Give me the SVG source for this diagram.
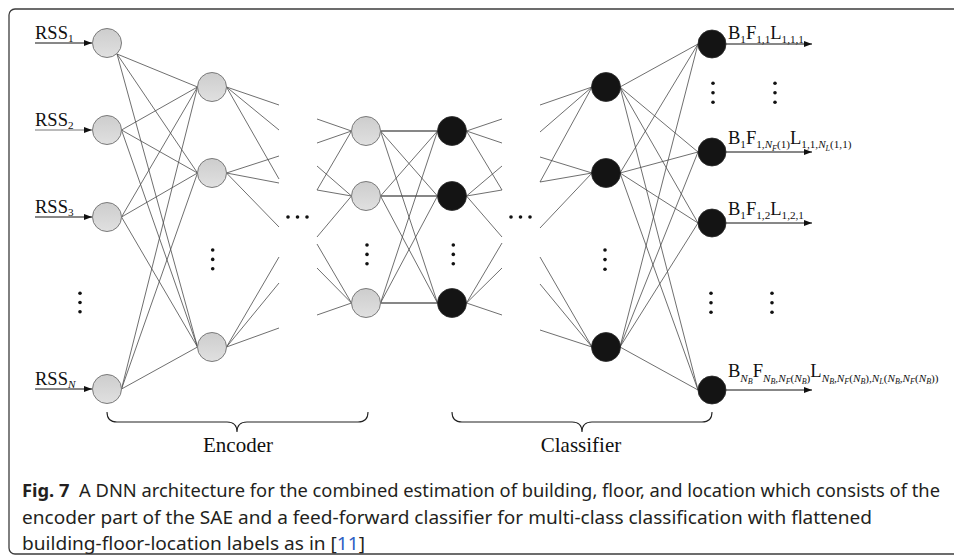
<svg xmlns="http://www.w3.org/2000/svg" width="954" height="555" viewBox="0 0 954 555">
  <style>
    .frame { fill: none; stroke: #3c3c3c; stroke-width: 1.3; }
    .w { stroke: #4a4a4a; stroke-width: 0.8; fill: none; }
    .wd { stroke: #111; stroke-width: 1.2; fill: none; }
    .arr { stroke: #111; stroke-width: 1; fill: none; marker-end: url(#tip); }
    .gray { fill: url(#gfill); stroke: #7a7a7a; stroke-width: 1; }
    .black { fill: #141414; stroke: #2a2a2a; stroke-width: 0.8; }
    .dot { fill: #111; }
    .t { font-family: "Liberation Serif", "Times New Roman", serif; fill: #111; }
    .m { font-size: 18.5px; }
    .s { font-size: 11.2px; }
    .ss { font-size: 8px; }
    .i { font-style: italic; }
    .big { font-size: 21px; }
    .brace { fill: none; stroke: #222; stroke-width: 1.1; }
    .cap { font-family: "Noto Sans", "Open Sans", sans-serif; font-size: 18.5px; fill: #231f20; }
    .capb { font-weight: bold; }
    .link { fill: #2f5fc4; }
  </style>
  <defs>
    <linearGradient id="gfill" x1="0" y1="0" x2="0" y2="1">
      <stop offset="0" stop-color="#cdcdcd"/>
      <stop offset="1" stop-color="#e0e0e0"/>
    </linearGradient>
    <marker id="tip" viewBox="0 0 8 6" refX="8" refY="3" markerWidth="8" markerHeight="6" markerUnits="userSpaceOnUse" orient="auto">
      <path d="M0,0 L8,3 L0,6 z" fill="#111"/>
    </marker>
  </defs>

  <!-- outer panel -->
  <rect class="frame" x="9" y="9" width="960" height="545" rx="6"/>

  <!-- connectors -->
  <g id="connectors">
    <!-- inputs -->
    <line class="arr" x1="35" y1="43" x2="92" y2="43"/>
    <line class="arr" x1="35" y1="130" x2="92" y2="130" style="stroke:#777"/>
    <line class="arr" x1="35" y1="217" x2="92" y2="217"/>
    <line class="arr" x1="35" y1="389" x2="92" y2="389"/>
    <!-- input layer to first hidden layer -->
    <path class="w" d="M117,54 L197.5,87 M117,54 L197.5,173 M117,54 L197.5,347
                       M121.5,130 L197.5,87 M121.5,130 L197.5,173 M121.5,130 L197.5,347
                       M121.5,217 L197.5,87 M121.5,217 L197.5,173 M121.5,217 L197.5,347
                       M121.5,389 L197.5,87 M121.5,389 L197.5,173 M121.5,389 L197.5,347"/>
    <!-- first hidden layer, outgoing stubs -->
    <path class="w" d="M226.5,87 L279,105 M226.5,87 L279,130 M226.5,87 L279,179
                       M226.5,173 L279,156 M226.5,173 L279,183 M226.5,173 L279,227
                       M226.5,347 L279,257 M226.5,347 L279,283 M226.5,347 L279,328"/>
    <!-- last encoder layer, incoming stubs -->
    <path class="w" d="M317,119 L351.5,131 M317,143 L351.5,131 M317,190 L351.5,131
                       M317,166 L351.5,196 M317,190 L351.5,196 M317,237 L351.5,196
                       M317,244 L351.5,303 M317,268 L351.5,303 M317,315 L351.5,303"/>
    <!-- encoder output to classifier input -->
    <path class="wd" d="M380.5,131 H437.5 M380.5,196 H437.5 M380.5,303 H437.5"/>
    <path class="w" d="M380.5,131 L437.5,196 M380.5,131 L437.5,303
                       M380.5,196 L437.5,131 M380.5,196 L437.5,303
                       M380.5,303 L437.5,131 M380.5,303 L437.5,196"/>
    <!-- first classifier layer, outgoing stubs -->
    <path class="w" d="M466.5,131 L502,119 M466.5,131 L502,143 M466.5,131 L502,190
                       M466.5,196 L502,166 M466.5,196 L502,190 M466.5,196 L502,237
                       M466.5,303 L502,243 M466.5,303 L502,268 M466.5,303 L502,315"/>
    <!-- last hidden classifier layer, incoming stubs -->
    <path class="w" d="M540,105 L592,87 M540,132 L592,87 M540,182 L592,87
                       M540,157 L592,173 M540,182 L592,173 M540,228 L592,173
                       M540,257 L592,347 M540,284 L592,347 M540,330 L592,347"/>
    <!-- hidden to output layer -->
    <path class="w" d="M620,87 L698,44 M620,87 L698,152 M620,87 L698,223 M620,87 L698,390
                       M620,173 L698,44 M620,173 L698,152 M620,173 L698,223 M620,173 L698,390
                       M620,347 L698,44 M620,347 L698,152 M620,347 L698,223 M620,347 L698,390"/>
    <!-- outputs -->
    <line class="arr" x1="726" y1="44" x2="812" y2="44"/>
    <line class="arr" x1="726" y1="152" x2="812" y2="152"/>
    <line class="arr" x1="726" y1="223" x2="812" y2="223"/>
    <line class="arr" x1="726" y1="390" x2="812" y2="390"/>
  </g>

  <!-- input layer -->
  <g id="input-layer">
    <circle class="gray" cx="107" cy="43" r="14.5"/>
    <circle class="gray" cx="107" cy="130" r="14.5"/>
    <circle class="gray" cx="107" cy="217" r="14.5"/>
    <circle class="gray" cx="107" cy="389" r="14.5"/>
    <circle class="dot" cx="80" cy="293.3" r="1.8"/>
    <circle class="dot" cx="80" cy="302.5" r="1.8"/>
    <circle class="dot" cx="80" cy="311.7" r="1.8"/>
    <text class="t m" x="35" y="38.5">RSS<tspan class="s" dy="3.5">1</tspan></text>
    <text class="t m" x="35" y="125.5">RSS<tspan class="s" dy="3.5">2</tspan></text>
    <text class="t m" x="35" y="212.5">RSS<tspan class="s" dy="3.5">3</tspan></text>
    <text class="t m" x="35" y="384.5">RSS<tspan class="s i" dy="3.5">N</tspan></text>
  </g>

  <!-- first encoder hidden layer -->
  <g id="encoder-hidden-1">
    <circle class="gray" cx="212" cy="87" r="14.5"/>
    <circle class="gray" cx="212" cy="173" r="14.5"/>
    <circle class="gray" cx="212" cy="347" r="14.5"/>
    <circle class="dot" cx="212.7" cy="250" r="1.8"/>
    <circle class="dot" cx="212.7" cy="259.4" r="1.8"/>
    <circle class="dot" cx="212.7" cy="268.8" r="1.8"/>
  </g>

  <g id="ellipsis-encoder">
    <circle class="dot" cx="288" cy="217" r="1.8"/>
    <circle class="dot" cx="297.5" cy="217" r="1.8"/>
    <circle class="dot" cx="307" cy="217" r="1.8"/>
  </g>

  <!-- encoder output layer -->
  <g id="encoder-output">
    <circle class="gray" cx="366" cy="131" r="14.5"/>
    <circle class="gray" cx="366" cy="196" r="14.5"/>
    <circle class="gray" cx="366" cy="303" r="14.5"/>
    <circle class="dot" cx="367" cy="245" r="1.8"/>
    <circle class="dot" cx="367" cy="254.4" r="1.8"/>
    <circle class="dot" cx="367" cy="263.8" r="1.8"/>
  </g>

  <!-- first classifier layer -->
  <g id="classifier-hidden-1">
    <circle class="black" cx="452" cy="131" r="14.5"/>
    <circle class="black" cx="452" cy="196" r="14.5"/>
    <circle class="black" cx="452" cy="303" r="14.5"/>
    <circle class="dot" cx="453.3" cy="245" r="1.8"/>
    <circle class="dot" cx="453.3" cy="254.4" r="1.8"/>
    <circle class="dot" cx="453.3" cy="263.8" r="1.8"/>
  </g>

  <g id="ellipsis-classifier">
    <circle class="dot" cx="511" cy="217" r="1.8"/>
    <circle class="dot" cx="520.5" cy="217" r="1.8"/>
    <circle class="dot" cx="530" cy="217" r="1.8"/>
  </g>

  <!-- last hidden classifier layer -->
  <g id="classifier-hidden-2">
    <circle class="black" cx="606" cy="87" r="14.5"/>
    <circle class="black" cx="606" cy="173" r="14.5"/>
    <circle class="black" cx="606" cy="347" r="14.5"/>
    <circle class="dot" cx="605" cy="250" r="1.8"/>
    <circle class="dot" cx="605" cy="259.6" r="1.8"/>
    <circle class="dot" cx="605" cy="269.2" r="1.8"/>
  </g>

  <!-- output layer -->
  <g id="output-layer">
    <circle class="black" cx="712" cy="44" r="14"/>
    <circle class="black" cx="712" cy="152" r="14"/>
    <circle class="black" cx="712" cy="223" r="14"/>
    <circle class="black" cx="712" cy="390" r="14"/>
    <circle class="dot" cx="713" cy="83.3" r="1.8"/>
    <circle class="dot" cx="713" cy="92.8" r="1.8"/>
    <circle class="dot" cx="713" cy="102.3" r="1.8"/>
    <circle class="dot" cx="775" cy="83.3" r="1.8"/>
    <circle class="dot" cx="775" cy="92.8" r="1.8"/>
    <circle class="dot" cx="775" cy="102.3" r="1.8"/>
    <circle class="dot" cx="711" cy="293.3" r="1.8"/>
    <circle class="dot" cx="711" cy="302.8" r="1.8"/>
    <circle class="dot" cx="711" cy="312.3" r="1.8"/>
    <circle class="dot" cx="772" cy="293.3" r="1.8"/>
    <circle class="dot" cx="772" cy="302.8" r="1.8"/>
    <circle class="dot" cx="772" cy="312.3" r="1.8"/>

    <text class="t m" x="728" y="38.5">B<tspan class="s" dy="4">1</tspan><tspan dy="-4">F</tspan><tspan class="s" dy="4">1,1</tspan><tspan dy="-4">L</tspan><tspan class="s" dy="4">1,1,1</tspan></text>

    <text class="t m" x="728" y="143.5">B<tspan class="s" dy="4">1</tspan><tspan dy="-4">F</tspan><tspan class="s" dy="4">1,</tspan><tspan class="s i">N</tspan><tspan class="ss i" dy="3">F</tspan><tspan class="s" dy="-3">(1)</tspan><tspan dy="-4">L</tspan><tspan class="s" dy="4">1,1,</tspan><tspan class="s i">N</tspan><tspan class="ss i" dy="3">L</tspan><tspan class="s" dy="-3">(1,1)</tspan></text>

    <text class="t m" x="728" y="215">B<tspan class="s" dy="4">1</tspan><tspan dy="-4">F</tspan><tspan class="s" dy="4">1,2</tspan><tspan dy="-4">L</tspan><tspan class="s" dy="4">1,2,1</tspan></text>

    <text class="t m" x="728" y="377">B<tspan class="s i" dy="4.5">N</tspan><tspan class="ss i" dy="2.5">B</tspan><tspan dy="-7">F</tspan><tspan class="s i" dy="4.5">N</tspan><tspan class="ss i" dy="2.5">B</tspan><tspan class="s" dy="-2.5">,</tspan><tspan class="s i">N</tspan><tspan class="ss i" dy="2.5">F</tspan><tspan class="s" dy="-2.5">(</tspan><tspan class="s i">N</tspan><tspan class="ss i" dy="2.5">B</tspan><tspan class="s" dy="-2.5">)</tspan><tspan dy="-4.5">L</tspan><tspan class="s i" dy="4.5">N</tspan><tspan class="ss i" dy="2.5">B</tspan><tspan class="s" dy="-2.5">,</tspan><tspan class="s i">N</tspan><tspan class="ss i" dy="2.5">F</tspan><tspan class="s" dy="-2.5">(</tspan><tspan class="s i">N</tspan><tspan class="ss i" dy="2.5">B</tspan><tspan class="s" dy="-2.5">),</tspan><tspan class="s i">N</tspan><tspan class="ss i" dy="2.5">L</tspan><tspan class="s" dy="-2.5">(</tspan><tspan class="s i">N</tspan><tspan class="ss i" dy="2.5">B</tspan><tspan class="s" dy="-2.5">,</tspan><tspan class="s i">N</tspan><tspan class="ss i" dy="2.5">F</tspan><tspan class="s" dy="-2.5">(</tspan><tspan class="s i">N</tspan><tspan class="ss i" dy="2.5">B</tspan><tspan class="s" dy="-2.5">))</tspan></text>
  </g>

  <!-- braces -->
  <g id="encoder-brace">
    <path class="brace" d="M107,412 Q107,422 117,422 H227 Q237,422 237,432 Q237,422 247,422 H358 Q368,422 368,412"/>
    <text class="t big" x="238" y="452" text-anchor="middle">Encoder</text>
  </g>
  <g id="classifier-brace">
    <path class="brace" d="M452,412 Q452,422 462,422 H572 Q582,422 582,432 Q582,422 592,422 H702 Q712,422 712,412"/>
    <text class="t big" x="581" y="452" text-anchor="middle">Classifier</text>
  </g>

  <!-- caption -->
  <g id="caption">
    <text class="cap" x="22" y="497" textLength="918" lengthAdjust="spacingAndGlyphs"><tspan class="capb">Fig. 7</tspan>&#160; A DNN architecture for the combined estimation of building, floor, and location which consists of the</text>
    <text class="cap" x="22" y="524" textLength="850" lengthAdjust="spacingAndGlyphs">encoder part of the SAE and a feed-forward classifier for multi-class classification with flattened</text>
    <text class="cap" x="22" y="550" textLength="343" lengthAdjust="spacingAndGlyphs">building-floor-location labels as in [<tspan class="link">11</tspan>]</text>
  </g>
</svg>
